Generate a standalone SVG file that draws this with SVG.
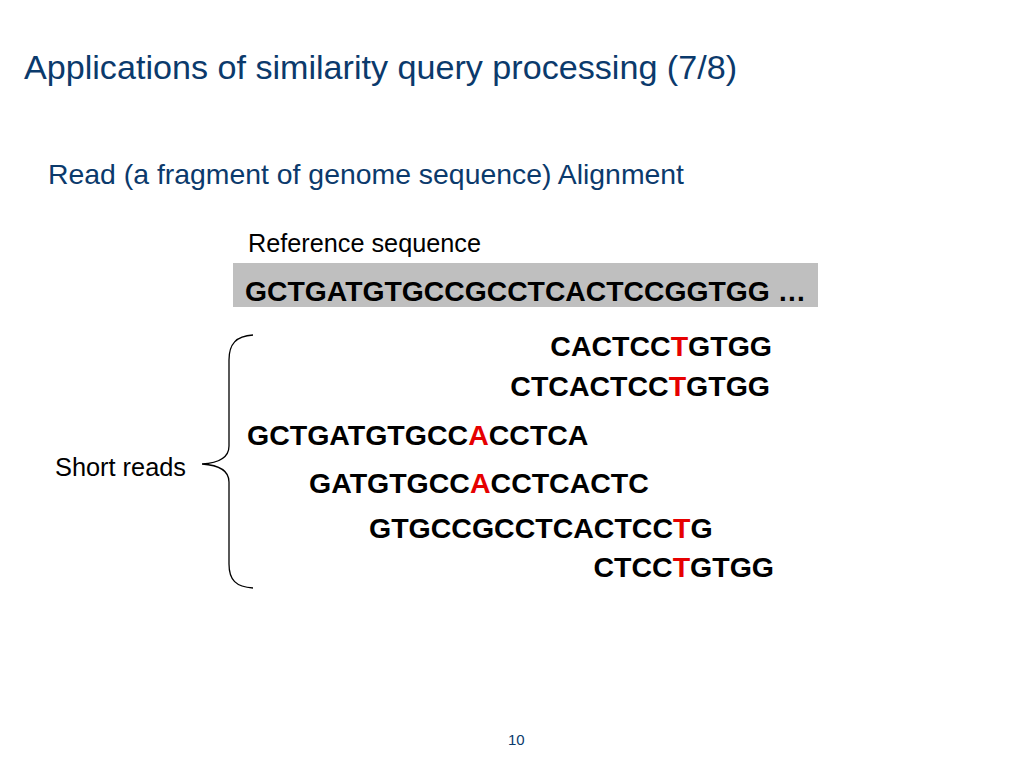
<svg xmlns="http://www.w3.org/2000/svg" width="1024" height="768" viewBox="0 0 1024 768">
<style>
.blue{fill:#0b3a6c;font-family:"Liberation Sans",Arial,sans-serif}
.seq{font-family:"Liberation Sans",Arial,sans-serif;font-weight:bold;font-size:28.5px;fill:#000}
.lbl{font-family:"Liberation Sans",Arial,sans-serif;font-size:25px;fill:#000}
.mm{fill:#e60000}
</style>
<rect width="1024" height="768" fill="#fff"/>
<text class="blue" x="24" y="79" font-size="34" textLength="713" lengthAdjust="spacingAndGlyphs">Applications of similarity query processing (7/8)</text>
<text class="blue" x="48" y="184" font-size="28" textLength="636" lengthAdjust="spacingAndGlyphs">Read (a fragment of genome sequence) Alignment</text>
<g id="reference">
<text class="lbl" x="248" y="252" font-size="24" textLength="233" lengthAdjust="spacingAndGlyphs">Reference sequence</text>
<rect x="233" y="263" width="585" height="44" fill="#bfbfbf"/>
<text class="seq" x="245" y="301" textLength="561" lengthAdjust="spacingAndGlyphs">GCTGATGTGCCGCCTCACTCCGGTGG …</text>
</g>
<g id="reads">
<text class="seq" x="772" y="356" text-anchor="end">CACTCC<tspan class="mm">T</tspan>GTGG</text>
<text class="seq" x="770" y="396" text-anchor="end">CTCACTCC<tspan class="mm">T</tspan>GTGG</text>
<text class="seq" x="247" y="445">GCTGATGTGCC<tspan class="mm">A</tspan>CCTCA</text>
<text class="seq" x="309" y="493">GATGTGCC<tspan class="mm">A</tspan>CCTCACTC</text>
<text class="seq" x="369" y="538">GTGCCGCCTCACTCC<tspan class="mm">T</tspan>G</text>
<text class="seq" x="774" y="577" text-anchor="end">CTCC<tspan class="mm">T</tspan>GTGG</text>
</g>
<g id="short-reads">
<text class="lbl" x="55" y="476" textLength="131" lengthAdjust="spacingAndGlyphs">Short reads</text>
<path d="M253,335 C236,336 229,344 229,360 L229,446 C229,458 218,463 202,464 C218,465 229,470 229,482 L229,564 C229,580 236,587 253,588" fill="none" stroke="#000" stroke-width="1.3"/>
</g>
<text class="blue" x="508" y="745" font-size="15">10</text>
</svg>
